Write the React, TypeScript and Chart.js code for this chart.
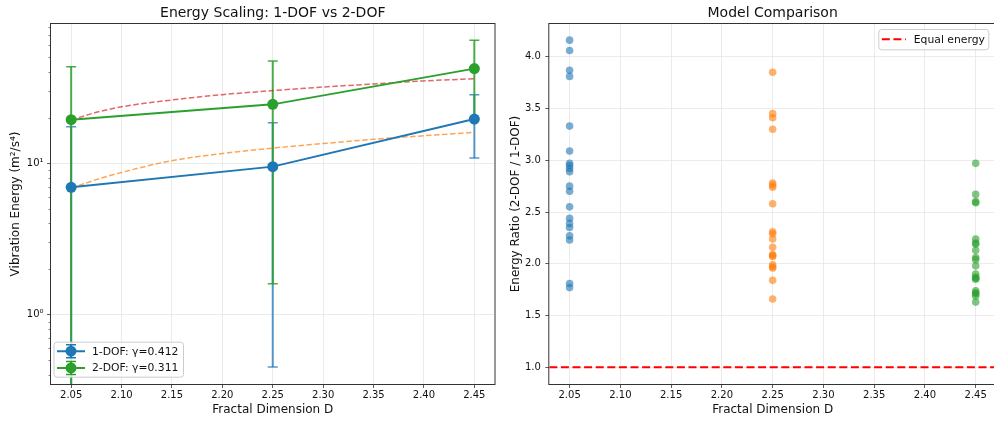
import React, { useEffect, useRef } from "react";
import { Chart, registerables } from "chart.js";

Chart.register(...registerables);

// ---------------- data ----------------
const dims = [2.05, 2.25, 2.45];
const energy1 = [6.94, 9.5, 19.6];
const err1 = [10.5, 9.05, 8.75];
const energy2 = [19.4, 24.5, 42.2];
const err2 = [24.1, 22.9, 22.7];

const fitD = [2.05, 2.075, 2.1, 2.15, 2.2, 2.25, 2.3, 2.35, 2.4, 2.45];
const fit1 = [6.84, 7.8, 8.7, 10.4, 11.6, 12.6, 13.5, 14.4, 15.2, 16.0];
const fit2 = [19.3, 21.7, 23.6, 26.2, 28.4, 30.2, 31.9, 33.4, 35.0, 36.2];

const ratioD = [2.05, 2.25, 2.45];
const ratioA = [4.16, 4.06, 3.87, 3.81, 3.33, 3.09, 2.97, 2.95, 2.92, 2.89, 2.75, 2.70, 2.55, 2.44, 2.39, 2.35, 2.27, 2.23, 1.81, 1.77];
const ratioB = [3.85, 3.45, 3.41, 3.30, 2.78, 2.76, 2.74, 2.58, 2.31, 2.29, 2.24, 2.16, 2.09, 2.08, 2.07, 1.99, 1.97, 1.96, 1.84, 1.66];
const ratioC = [2.97, 2.67, 2.60, 2.59, 2.24, 2.20, 2.19, 2.13, 2.06, 2.04, 1.98, 1.90, 1.87, 1.86, 1.85, 1.74, 1.72, 1.71, 1.69, 1.63];
const equalLevel = 1.0;

const xTicks = [2.05, 2.1, 2.15, 2.2, 2.25, 2.3, 2.35, 2.4, 2.45];
const logMajor = [1, 10];
const logMinor = [0.4, 0.5, 0.6, 0.7, 0.8, 0.9, 2, 3, 4, 5, 6, 7, 8, 9, 20, 30, 40, 50, 60, 70, 80];
const ratioTicks = [1.0, 1.5, 2.0, 2.5, 3.0, 3.5, 4.0];

const leftTitle = "Energy Scaling: 1-DOF vs 2-DOF";
const rightTitle = "Model Comparison";
const xLabel = "Fractal Dimension D";
const leftYLabel = "Vibration Energy (m²/s⁴)";
const rightYLabel = "Energy Ratio (2-DOF / 1-DOF)";
const leftLegend = ["1-DOF: γ=0.412", "2-DOF: γ=0.311"];
const rightLegend = "Equal energy";

const X_MIN = 2.03;
const X_MAX = 2.47;
const LOG_MIN = 0.348;
const LOG_MAX = 83.2;
const R_MIN = 0.839;
const R_MAX = 4.316;

// ---------------- styles ----------------
const FONT = "'DejaVu Sans', sans-serif";
const TXT = "#111";
const GRID = "#e6e6e6";
const TICKC = "#333";
const BLUE = "#1f77b4";
const GREEN = "#2ca02c";

function xScale(): any {
  return {
    type: "linear",
    min: X_MIN,
    max: X_MAX,
    bounds: "data",
    afterBuildTicks: (s: any) => {
      s.ticks = xTicks.map((v) => ({ value: v }));
    },
    afterFit: (s: any) => {
      s.height = 38;
    },
    ticks: {
      callback: (v: any) => Number(v).toFixed(2),
      font: { family: FONT, size: 10 },
      color: TXT,
      padding: 1.5,
      maxRotation: 0,
      autoSkip: false,
    },
    grid: { color: GRID, lineWidth: 0.8, tickLength: 4, tickColor: TICKC, tickWidth: 0.8 },
    border: { display: false },
    title: {
      display: true,
      text: xLabel,
      font: { family: FONT, size: 12 },
      color: TXT,
      padding: { top: 0, bottom: 4.5 },
    },
  };
}

function titleOpts(text: string): any {
  return {
    display: true,
    text,
    fullSize: false,
    font: { family: FONT, size: 14, weight: "normal" },
    color: TXT,
    padding: { top: 4.5, bottom: 2.7 },
  };
}

const framePlugin = {
  id: "frame",
  afterDraw(chart: any) {
    const { ctx, chartArea } = chart;
    ctx.save();
    ctx.strokeStyle = "#333";
    ctx.lineWidth = 1;
    ctx.strokeRect(chartArea.left - 0.5, chartArea.top - 0.5, chartArea.right - chartArea.left + 1, chartArea.bottom - chartArea.top + 1);
    const y = chart.scales.y;
    if (y && y.type === "logarithmic") {
      ctx.lineWidth = 0.6;
      ctx.beginPath();
      logMinor.forEach((v) => {
        const py = Math.round(y.getPixelForValue(v)) + 0.5;
        if (py < chartArea.top || py > chartArea.bottom) return;
        ctx.moveTo(chartArea.left - 2.5, py);
        ctx.lineTo(chartArea.left, py);
      });
      ctx.stroke();
    }
    ctx.restore();
  },
};

const errorBarPlugin = {
  id: "errbars",
  beforeDatasetsDraw(chart: any) {
    const { ctx, chartArea } = chart;
    const x = chart.scales.x;
    const y = chart.scales.y;
    ctx.save();
    ctx.beginPath();
    ctx.rect(chartArea.left, chartArea.top, chartArea.right - chartArea.left, chartArea.bottom - chartArea.top);
    ctx.clip();
    const series = [
      { vals: energy1, errs: err1, color: "rgba(31,119,180,0.75)" },
      { vals: energy2, errs: err2, color: "rgba(44,160,44,0.85)" },
    ];
    series.forEach((s) => {
      s.vals.forEach((v, i) => {
        const px = x.getPixelForValue(dims[i]);
        const hi = v + s.errs[i];
        const lo = v - s.errs[i];
        const pyHi = y.getPixelForValue(hi);
        const pyLo = lo > 0 ? y.getPixelForValue(lo) : chartArea.bottom + 20;
        ctx.strokeStyle = s.color;
        ctx.lineWidth = 2;
        ctx.beginPath();
        ctx.moveTo(px, pyHi);
        ctx.lineTo(px, pyLo);
        ctx.stroke();
        ctx.lineWidth = 1.5;
        ctx.beginPath();
        ctx.moveTo(px - 5, pyHi);
        ctx.lineTo(px + 5, pyHi);
        if (lo > 0) {
          ctx.moveTo(px - 5, pyLo);
          ctx.lineTo(px + 5, pyLo);
        }
        ctx.stroke();
      });
    });
    ctx.restore();
  },
};

function roundRect(ctx: CanvasRenderingContext2D, x: number, y: number, w: number, h: number, r: number) {
  ctx.beginPath();
  ctx.moveTo(x + r, y);
  ctx.lineTo(x + w - r, y);
  ctx.quadraticCurveTo(x + w, y, x + w, y + r);
  ctx.lineTo(x + w, y + h - r);
  ctx.quadraticCurveTo(x + w, y + h, x + w - r, y + h);
  ctx.lineTo(x + r, y + h);
  ctx.quadraticCurveTo(x, y + h, x, y + h - r);
  ctx.lineTo(x, y + r);
  ctx.quadraticCurveTo(x, y, x + r, y);
  ctx.closePath();
}

const leftLegendPlugin = {
  id: "leftLegend",
  afterDraw(chart: any) {
    const { ctx, chartArea } = chart;
    const bx = chartArea.left + 2.5;
    const bw = 129.5;
    const bh = 35;
    const by = chartArea.bottom - 7.3 - bh;
    ctx.save();
    roundRect(ctx, bx + 0.5, by + 0.5, bw, bh, 3);
    ctx.fillStyle = "rgba(255,255,255,0.8)";
    ctx.fill();
    ctx.strokeStyle = "#cccccc";
    ctx.lineWidth = 1;
    ctx.stroke();
    const colors = [BLUE, GREEN];
    leftLegend.forEach((label, i) => {
      const cy = by + 9.5 + i * 16.7;
      const x0 = bx + 3.5;
      const x1 = bx + 31.5;
      const mx = (x0 + x1) / 2;
      ctx.strokeStyle = colors[i];
      ctx.lineWidth = 2;
      ctx.beginPath();
      ctx.moveTo(x0, cy);
      ctx.lineTo(x1, cy);
      ctx.moveTo(mx, cy - 6.5);
      ctx.lineTo(mx, cy + 6.5);
      ctx.stroke();
      ctx.lineWidth = 1.5;
      ctx.beginPath();
      ctx.moveTo(mx - 5, cy - 6.5);
      ctx.lineTo(mx + 5, cy - 6.5);
      ctx.moveTo(mx - 5, cy + 6.5);
      ctx.lineTo(mx + 5, cy + 6.5);
      ctx.stroke();
      ctx.fillStyle = colors[i];
      ctx.beginPath();
      ctx.arc(mx, cy, 5.5, 0, Math.PI * 2);
      ctx.fill();
      ctx.fillStyle = TXT;
      ctx.font = `10.8px ${FONT}`;
      ctx.textBaseline = "middle";
      ctx.textAlign = "left";
      ctx.fillText(label, bx + 38.5, cy + 0.5);
    });
    ctx.restore();
  },
};

const rightLegendPlugin = {
  id: "rightLegend",
  afterDraw(chart: any) {
    const { ctx, chartArea } = chart;
    const bw = 110;
    const bh = 20.3;
    const bx = chartArea.right - 7.7 - bw;
    const by = chartArea.top + 5;
    ctx.save();
    roundRect(ctx, bx + 0.5, by + 0.5, bw, bh, 3);
    ctx.fillStyle = "rgba(255,255,255,0.8)";
    ctx.fill();
    ctx.strokeStyle = "#cccccc";
    ctx.lineWidth = 1;
    ctx.stroke();
    const cy = by + 10.2;
    ctx.strokeStyle = "red";
    ctx.lineWidth = 2;
    ctx.setLineDash([8, 3.6]);
    ctx.beginPath();
    ctx.moveTo(bx + 3.5, cy);
    ctx.lineTo(bx + 27.5, cy);
    ctx.stroke();
    ctx.setLineDash([]);
    ctx.fillStyle = TXT;
    ctx.font = `10.8px ${FONT}`;
    ctx.textBaseline = "middle";
    ctx.textAlign = "left";
    ctx.fillText(rightLegend, bx + 35.5, cy + 0.5);
    ctx.restore();
  },
};

function LeftChart() {
  const ref = useRef<HTMLCanvasElement>(null);
  useEffect(() => {
    const isMajor = (v: number) => logMajor.some((m) => Math.abs(m - v) < 1e-9);
    const chart = new Chart(ref.current as HTMLCanvasElement, {
      type: "line",
      data: {
        datasets: [
          {
            label: leftLegend[1],
            data: dims.map((d, i) => ({ x: d, y: energy2[i] })),
            borderColor: GREEN,
            backgroundColor: GREEN,
            borderWidth: 2,
            pointRadius: 5.5,
            pointBorderWidth: 0,
            pointBackgroundColor: GREEN,
          },
          {
            label: leftLegend[0],
            data: dims.map((d, i) => ({ x: d, y: energy1[i] })),
            borderColor: BLUE,
            backgroundColor: BLUE,
            borderWidth: 2,
            pointRadius: 5.5,
            pointBorderWidth: 0,
            pointBackgroundColor: BLUE,
          },
          {
            label: "fit 2-DOF",
            data: fitD.map((d, i) => ({ x: d, y: fit2[i] })),
            borderColor: "rgba(214,39,40,0.7)",
            borderWidth: 1.5,
            borderDash: [5.5, 2.5],
            pointRadius: 0,
            cubicInterpolationMode: "monotone",
          },
          {
            label: "fit 1-DOF",
            data: fitD.map((d, i) => ({ x: d, y: fit1[i] })),
            borderColor: "rgba(255,127,14,0.7)",
            borderWidth: 1.5,
            borderDash: [5.5, 2.5],
            pointRadius: 0,
            cubicInterpolationMode: "monotone",
          },
        ] as any,
      },
      options: {
        animation: false,
        responsive: false,
        devicePixelRatio: 1,
        layout: { padding: { top: 0, right: 1, bottom: 0, left: 0 } },
        plugins: {
          legend: { display: false },
          tooltip: { enabled: false },
          title: titleOpts(leftTitle),
        },
        scales: {
          x: xScale(),
          y: {
            type: "logarithmic",
            min: LOG_MIN,
            max: LOG_MAX,
            bounds: "data",
            afterBuildTicks: (s: any) => {
              s.ticks = [...logMinor, ...logMajor].sort((a, b) => a - b).map((v) => ({ value: v }));
              s.min = LOG_MIN;
              s.max = LOG_MAX;
            },
            afterFit: (s: any) => {
              s.width = 51;
            },
            ticks: {
              callback: (v: any) => (Math.abs(v - 1) < 1e-9 ? "10⁰" : Math.abs(v - 10) < 1e-9 ? "10¹" : ""),
              font: { family: FONT, size: 10 },
              color: TXT,
              padding: 3.5,
              autoSkip: false,
            },
            grid: {
              color: (c: any) => (c.tick && isMajor(c.tick.value) ? GRID : "rgba(0,0,0,0)"),
              tickColor: (c: any) => (c.tick && isMajor(c.tick.value) ? TICKC : "rgba(0,0,0,0)"),
              lineWidth: 0.8,
              tickLength: 4,
              tickWidth: 0.8,
            },
            border: { display: false },
            title: {
              display: true,
              text: leftYLabel,
              font: { family: FONT, size: 12 },
              color: TXT,
              padding: { top: 9, bottom: 0 },
            },
          } as any,
        },
      } as any,
      plugins: [errorBarPlugin, framePlugin, leftLegendPlugin],
    });
    return () => chart.destroy();
  }, []);
  return <canvas ref={ref} width={500} height={422} style={{ position: "absolute", left: 0, top: 0 }} />;
}

function RightChart() {
  const ref = useRef<HTMLCanvasElement>(null);
  useEffect(() => {
    const groups = [ratioA, ratioB, ratioC];
    const colors = ["rgba(31,119,180,0.6)", "rgba(255,127,14,0.6)", "rgba(44,160,44,0.6)"];
    const chart = new Chart(ref.current as HTMLCanvasElement, {
      type: "scatter",
      data: {
        datasets: [
          {
            type: "line",
            label: rightLegend,
            data: [
              { x: X_MIN, y: equalLevel },
              { x: X_MAX, y: equalLevel },
            ],
            borderColor: "red",
            borderWidth: 2,
            borderDash: [8, 3.6],
            pointRadius: 0,
          },
          ...groups.map((g, gi) => ({
            label: `D=${ratioD[gi]}`,
            data: g.map((v) => ({ x: ratioD[gi], y: v })),
            backgroundColor: colors[gi],
            borderWidth: 0,
            pointRadius: 3.8,
          })),
        ] as any,
      },
      options: {
        animation: false,
        responsive: false,
        devicePixelRatio: 1,
        layout: { padding: { top: 0, right: 3, bottom: 0, left: 0 } },
        plugins: {
          legend: { display: false },
          tooltip: { enabled: false },
          title: titleOpts(rightTitle),
        },
        scales: {
          x: xScale(),
          y: {
            type: "linear",
            min: R_MIN,
            max: R_MAX,
            bounds: "data",
            afterBuildTicks: (s: any) => {
              s.ticks = ratioTicks.map((v) => ({ value: v }));
            },
            afterFit: (s: any) => {
              s.width = 49.3;
            },
            ticks: {
              callback: (v: any) => Number(v).toFixed(1),
              font: { family: FONT, size: 10 },
              color: TXT,
              padding: 4.5,
              autoSkip: false,
            },
            grid: { color: GRID, lineWidth: 0.8, tickLength: 4, tickColor: TICKC, tickWidth: 0.8 },
            border: { display: false },
            title: {
              display: true,
              text: rightYLabel,
              font: { family: FONT, size: 12 },
              color: TXT,
              padding: { top: 9, bottom: 0 },
            },
          },
        },
      } as any,
      plugins: [framePlugin, rightLegendPlugin],
    });
    return () => chart.destroy();
  }, []);
  return <canvas ref={ref} width={500} height={422} style={{ position: "absolute", left: 500, top: 0 }} />;
}

export default function App() {
  return (
    <div
      style={{
        position: "fixed",
        left: 0,
        top: 0,
        width: 994,
        height: 422,
        overflow: "hidden",
        background: "#fff",
      }}
    >
      <LeftChart />
      <RightChart />
    </div>
  );
}
